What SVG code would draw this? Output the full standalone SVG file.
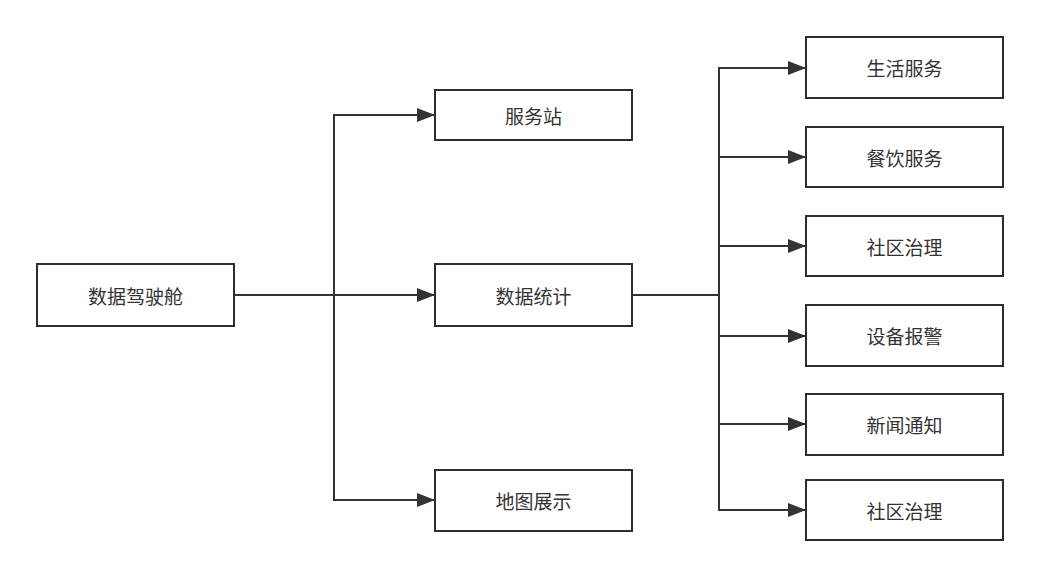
<svg xmlns="http://www.w3.org/2000/svg" width="1041" height="578" viewBox="0 0 1041 578">
<style>
.box{fill:#fff;stroke:#2b2f33;stroke-width:2}
.lbl{font-family:"Noto Sans CJK SC","Liberation Sans",sans-serif;font-size:19px;fill:#333;text-anchor:middle;dominant-baseline:central}
.edge{fill:none;stroke:#333;stroke-width:2}
</style>
<defs>
<marker id="arr" markerWidth="18" markerHeight="14" refX="17" refY="7" orient="auto" markerUnits="userSpaceOnUse">
<path d="M0,0 L18,7 L0,14 Z" fill="#333"/>
</marker>
</defs>
<rect width="1041" height="578" fill="#fff"/>
<g id="connectors">
<path class="edge" d="M234,295 H334 V115 H434" marker-end="url(#arr)"/>
<path class="edge" d="M234,295 H434" marker-end="url(#arr)"/>
<path class="edge" d="M234,295 H334 V500 H434" marker-end="url(#arr)"/>
<path class="edge" d="M632,295 H719 V68 H805" marker-end="url(#arr)"/>
<path class="edge" d="M632,295 H719 V157 H805" marker-end="url(#arr)"/>
<path class="edge" d="M632,295 H719 V246 H805" marker-end="url(#arr)"/>
<path class="edge" d="M632,295 H719 V336 H805" marker-end="url(#arr)"/>
<path class="edge" d="M632,295 H719 V424 H805" marker-end="url(#arr)"/>
<path class="edge" d="M632,295 H719 V510 H805" marker-end="url(#arr)"/>
</g>
<g id="n-cockpit"><rect class="box" x="37" y="264" width="197" height="62"/><text class="lbl" x="135.5" y="295">数据驾驶舱</text></g>
<g id="n-station"><rect class="box" x="435" y="90" width="197" height="50"/><text class="lbl" x="533.5" y="115">服务站</text></g>
<g id="n-stats"><rect class="box" x="435" y="264" width="197" height="62"/><text class="lbl" x="533.5" y="295">数据统计</text></g>
<g id="n-map"><rect class="box" x="435" y="470" width="197" height="61"/><text class="lbl" x="533.5" y="500.5">地图展示</text></g>
<g id="n-life"><rect class="box" x="806" y="37" width="197" height="61"/><text class="lbl" x="904.5" y="67.5">生活服务</text></g>
<g id="n-food"><rect class="box" x="806" y="127" width="197" height="60"/><text class="lbl" x="904.5" y="157">餐饮服务</text></g>
<g id="n-gov1"><rect class="box" x="806" y="216" width="197" height="60"/><text class="lbl" x="904.5" y="246">社区治理</text></g>
<g id="n-alarm"><rect class="box" x="806" y="305" width="197" height="61"/><text class="lbl" x="904.5" y="335.5">设备报警</text></g>
<g id="n-news"><rect class="box" x="806" y="394" width="197" height="61"/><text class="lbl" x="904.5" y="424.5">新闻通知</text></g>
<g id="n-gov2"><rect class="box" x="806" y="480" width="197" height="60"/><text class="lbl" x="904.5" y="510">社区治理</text></g>
</svg>
